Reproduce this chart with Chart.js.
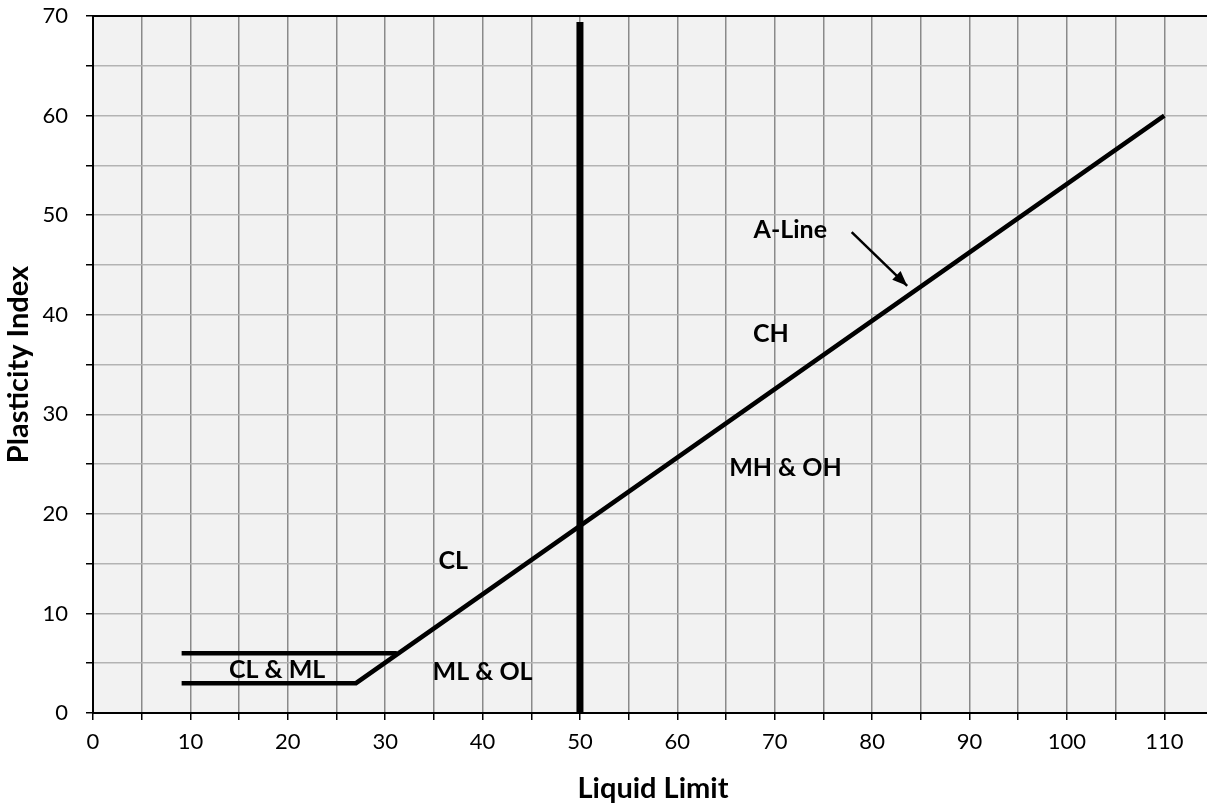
<!DOCTYPE html>
<html>
<head>
<meta charset="utf-8">
<script src="https://cdn.jsdelivr.net/npm/chart.js@4.4.1/dist/chart.umd.min.js"></script>
<style>
  html, body { margin: 0; padding: 0; background: #fff; overflow: hidden; }
  #wrap { width: 1240px; height: 808px; }
</style>
</head>
<body>
<div id="wrap"><canvas id="plasticityChart" width="1240" height="808"></canvas></div>
<script>
// A-line (with the flat part at PI = 3)
const aLineX = [9.1, 27, 110];
const aLineY = [3, 3, 60];
// upper limit of the CL & ML band
const bandX = [9.1, 31.2];
const bandY = [6, 6];
// LL = 50 divider
const dividerX = [50, 50];
const dividerY = [0, 69.4];
// pointer to the A-line
const arrowX = [77.9, 83.6];
const arrowY = [48.3, 42.9];

const zoneNames = ['A-Line', 'CH', 'MH & OH', 'CL', 'CL & ML', 'ML & OL'];
const zoneX = [71.6, 69.6, 71.1, 37.0, 18.9, 40.0];
const zoneY = [48.5, 38.1, 24.6, 15.3, 4.3, 4.15];

const xTicks = [0, 10, 20, 30, 40, 50, 60, 70, 80, 90, 100, 110];
const yTicks = [0, 10, 20, 30, 40, 50, 60, 70];

function toPoints(xs, ys) {
    return xs.map((x, i) => ({ x: x, y: ys[i] }));
}

const FONT = 'Lato, "Open Sans", sans-serif';

const chartPlugin = {
    id: 'plasticityExtras',
    beforeDraw(chart) {
        const a = chart.chartArea;
        const ctx = chart.ctx;
        ctx.save();
        ctx.fillStyle = '#f2f2f2';
        ctx.fillRect(a.left, a.top, a.right - a.left, a.bottom - a.top);
        ctx.restore();
    },
    afterDatasetsDraw(chart) {
        const ctx = chart.ctx;
        const xs = chart.scales.x, ys = chart.scales.y;

        // arrow head
        const meta = chart.getDatasetMeta(3);
        const p0 = meta.data[0], p1 = meta.data[1];
        const ang = Math.atan2(p1.y - p0.y, p1.x - p0.x);
        const len = 15, half = 6;
        ctx.save();
        ctx.fillStyle = '#000';
        ctx.beginPath();
        ctx.moveTo(p1.x, p1.y);
        ctx.lineTo(p1.x - len * Math.cos(ang) + half * Math.sin(ang), p1.y - len * Math.sin(ang) - half * Math.cos(ang));
        ctx.lineTo(p1.x - len * Math.cos(ang) - half * Math.sin(ang), p1.y - len * Math.sin(ang) + half * Math.cos(ang));
        ctx.closePath();
        ctx.fill();

        // zone labels
        ctx.font = 'bold 25px ' + FONT;
        ctx.textAlign = 'center';
        ctx.textBaseline = 'middle';
        zoneNames.forEach((name, i) => {
            ctx.fillText(name, xs.getPixelForValue(zoneX[i]), ys.getPixelForValue(zoneY[i]));
        });
        ctx.restore();
    },
    afterDraw(chart) {
        const a = chart.chartArea;
        const ctx = chart.ctx;
        ctx.save();
        // top border
        ctx.strokeStyle = '#000';
        ctx.lineWidth = 2;
        ctx.beginPath();
        ctx.moveTo(a.left, a.top);
        ctx.lineTo(a.right, a.top);
        ctx.stroke();

        // axis titles
        ctx.fillStyle = '#000';
        ctx.font = 'bold 29px ' + FONT;
        ctx.textAlign = 'center';
        ctx.textBaseline = 'middle';
        ctx.fillText('Liquid Limit', (a.left + a.right) / 2, 789);
        ctx.translate(19, (a.top + a.bottom) / 2);
        ctx.rotate(-Math.PI / 2);
        ctx.fillText('Plasticity Index', 0, 0);
        ctx.restore();
    }
};

const lineStyle = { showLine: true, pointRadius: 0, borderColor: '#000', fill: false, tension: 0 };

new Chart(document.getElementById('plasticityChart').getContext('2d'), {
    type: 'scatter',
    data: {
        datasets: [
            Object.assign({ label: 'A-Line', data: toPoints(aLineX, aLineY), borderWidth: 4.5 }, lineStyle),
            Object.assign({ label: 'Band', data: toPoints(bandX, bandY), borderWidth: 4.5 }, lineStyle),
            Object.assign({ label: 'LL 50', data: toPoints(dividerX, dividerY), borderWidth: 7 }, lineStyle),
            Object.assign({ label: 'Arrow', data: toPoints(arrowX, arrowY), borderWidth: 2.5 }, lineStyle)
        ]
    },
    options: {
        responsive: false,
        animation: false,
        layout: { padding: { left: 0, top: 16, right: 27, bottom: 0 } },
        plugins: { legend: { display: false }, tooltip: { enabled: false } },
        scales: {
            x: {
                type: 'linear',
                min: 0,
                max: 115,
                afterFit(scale) {
                    scale.height = 95;
                    scale.paddingLeft = 0;
                    scale.paddingRight = 0;
                },
                ticks: {
                    stepSize: 5,
                    autoSkip: false,
                    maxRotation: 0,
                    padding: 9,
                    color: '#000',
                    font: { family: FONT, size: 22 },
                    callback: (v) => xTicks.includes(v) ? String(v) : ''
                },
                grid: { color: '#8a8a8a', lineWidth: 1.5, tickLength: 7, tickColor: '#000', tickWidth: 1.5 },
                border: { color: '#000', width: 2 }
            },
            y: {
                type: 'linear',
                min: 0,
                max: 70,
                afterFit(scale) {
                    scale.width = 93;
                    scale.paddingTop = 0;
                    scale.paddingBottom = 0;
                },
                ticks: {
                    stepSize: 5,
                    autoSkip: false,
                    padding: 18,
                    color: '#000',
                    font: { family: FONT, size: 22 },
                    callback: (v) => yTicks.includes(v) ? String(v) : ''
                },
                grid: { color: '#b3b3b3', lineWidth: 1.5, tickLength: 7, tickColor: '#000', tickWidth: 1.5 },
                border: { color: '#000', width: 2 }
            }
        }
    },
    plugins: [chartPlugin]
});
</script>
</body>
</html>
